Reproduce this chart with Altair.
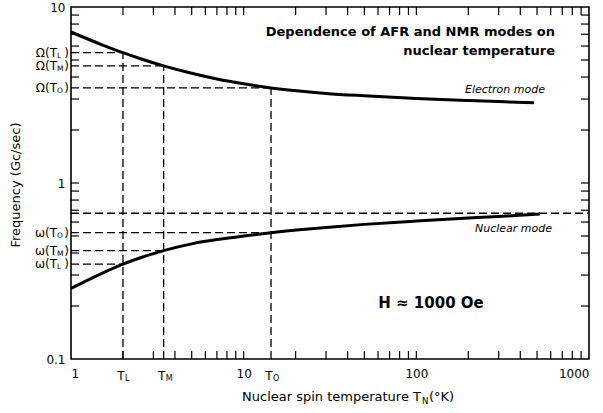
import altair as alt
import pandas as pd

# ---------------- data ----------------
electron_T = [1, 1.5, 2, 2.5, 3.44, 5, 7, 10, 14.4, 21, 30, 50, 100, 200, 300, 480]
electron_f = [7.21, 6.12, 5.50, 5.10, 4.63, 4.20, 3.90, 3.66, 3.47, 3.33, 3.23, 3.13, 3.02, 2.94, 2.90, 2.86]
nuclear_T = [1, 1.5, 2, 2.5, 3.44, 5, 7, 10, 14.4, 21, 30, 50, 100, 200, 300, 520]
nuclear_f = [0.252, 0.306, 0.346, 0.375, 0.413, 0.451, 0.477, 0.500, 0.522, 0.542, 0.559, 0.582, 0.608, 0.632, 0.645, 0.666]

T_marks = [2.0, 3.44, 14.4]
T_subs = ["L", "M", "O"]
Omega_at_T = [5.5, 4.63, 3.47]
omega_at_T = [0.346, 0.413, 0.522]
omega_limit = 0.673

x_domain = [1, 1000]
y_domain = [0.1, 10]
x_label_vals = [1, 10, 100, 1000]
y_label_vals = [0.1, 1, 10]
x_tick_vals = [2, 3, 4, 5, 6, 7, 8, 9, 10, 20, 30, 40, 50, 60, 70, 80, 90, 100,
               200, 300, 400, 500, 600, 700, 800, 900]
y_tick_vals = [0.2, 0.3, 0.4, 0.5, 0.6, 0.7, 0.8, 0.9, 1, 2, 3, 4, 5, 6, 7, 8, 9]

# ---------------- layout ----------------
W, H = 518, 352
FONT = "DejaVu Sans"

xs = alt.Scale(type="log", domain=x_domain, nice=False)
ys = alt.Scale(type="log", domain=y_domain, nice=False)

x_axis = alt.Axis(values=x_label_vals, ticks=False, domain=False, grid=False,
                  labelExpr="'' + datum.value", labelFontSize=12, labelFont=FONT,
                  labelColor="black", labelPadding=9, title=None)
y_axis = alt.Axis(values=y_label_vals, ticks=False, domain=False, grid=False,
                  labelExpr="'' + datum.value", labelFontSize=12, labelFont=FONT,
                  labelColor="black", labelPadding=6, title=None)


def X(field):
    return alt.X(field, scale=xs, axis=x_axis, title=None)


def Y(field):
    return alt.Y(field, scale=ys, axis=y_axis, title=None)


curves = pd.DataFrame({
    "T": electron_T + nuclear_T,
    "f": electron_f + nuclear_f,
    "mode": ["Electron"] * len(electron_T) + ["Nuclear"] * len(nuclear_T),
})

segs = pd.DataFrame({
    "x1": T_marks + [x_domain[0]] * 3 + [x_domain[0]] * 3 + [x_domain[0]],
    "x2": T_marks + T_marks + T_marks + [x_domain[1]],
    "y1": [y_domain[0]] * 3 + Omega_at_T + omega_at_T + [omega_limit],
    "y2": Omega_at_T + Omega_at_T + omega_at_T + [omega_limit],
})

lab_df = pd.DataFrame({"T": T_marks, "sub": T_subs, "Om": Omega_at_T, "om": omega_at_T})
one = pd.DataFrame({"a": [0]})

lines = alt.Chart(curves).mark_line(color="black", strokeWidth=3, interpolate="monotone").encode(
    x=X("T:Q"), y=Y("f:Q"), detail="mode:N",
)

dashed = alt.Chart(segs).mark_rule(color="black", strokeWidth=1.3, strokeDash=[8, 4]).encode(
    x=X("x1:Q"), x2="x2:Q", y=Y("y1:Q"), y2="y2:Q",
)

ydf = pd.DataFrame({"v": y_tick_vals})
xdf = pd.DataFrame({"v": x_tick_vals})
tick_style = dict(color="black", strokeWidth=1.2)
left_ticks = alt.Chart(ydf).mark_rule(**tick_style).encode(
    y=Y("v:Q"), x=alt.value(0), x2=alt.value(8))
right_ticks = alt.Chart(ydf).mark_rule(**tick_style).encode(
    y=Y("v:Q"), x=alt.value(W - 8), x2=alt.value(W))
bottom_ticks = alt.Chart(xdf).mark_rule(**tick_style).encode(
    x=X("v:Q"), y=alt.value(H - 8), y2=alt.value(H))
top_ticks = alt.Chart(xdf).mark_rule(**tick_style).encode(
    x=X("v:Q"), y=alt.value(0), y2=alt.value(8))


def txt(text, x, y, size=12, align="center", weight="normal", style="normal", angle=0):
    return alt.Chart(one).mark_text(text=text, align=align, baseline="middle", fontSize=size,
                                    fontWeight=weight, fontStyle=style, font=FONT, color="black",
                                    angle=angle).encode(x=alt.value(x), y=alt.value(y))


def side_labels(field, greek):
    base = alt.Chart(lab_df)
    pre = base.mark_text(align="right", baseline="middle", fontSize=12, font=FONT, color="black").encode(
        x=alt.value(-14), y=Y(f"{field}:Q"), text=alt.value(greek + "(T"))
    sub = base.mark_text(align="left", baseline="middle", fontSize=7.5, font=FONT, color="black", dy=3).encode(
        x=alt.value(-14), y=Y(f"{field}:Q"), text="sub:N")
    clo = base.mark_text(align="right", baseline="middle", fontSize=12, font=FONT, color="black").encode(
        x=alt.value(-2), y=Y(f"{field}:Q"), text=alt.value(")"))
    return pre + sub + clo


Om_labels = side_labels("Om", "Ω")
om_labels = side_labels("om", "ω")

t_base = alt.Chart(lab_df)
T_pre = t_base.mark_text(align="center", baseline="middle", fontSize=12, font=FONT, color="black", dx=-2).encode(
    x=X("T:Q"), y=alt.value(H + 17), text=alt.value("T"))
T_sub = t_base.mark_text(align="left", baseline="middle", fontSize=8, font=FONT, color="black", dx=2).encode(
    x=X("T:Q"), y=alt.value(H + 20), text="sub:N")

texts = (
    txt("Dependence of AFR and NMR modes on", 484, 25, size=13, align="right", weight="bold")
    + txt("nuclear temperature", 484, 44, size=13, align="right", weight="bold")
    + txt("Electron mode", 474, 83, size=11, align="right", style="italic")
    + txt("Nuclear mode", 481, 222, size=11, align="right", style="italic")
    + txt("H ≈ 1000 Oe", 360, 296, size=15, weight="bold")
    + txt("Frequency (Gc/sec)", -55, 178, size=13, angle=270)
    + txt("Nuclear spin temperature T", 350, 390, size=13, align="right")
    + txt("N", 351, 394, size=8.5, align="left")
    + txt("(°K)", 358, 390, size=13, align="left")
)

chart = alt.layer(
    lines, dashed, left_ticks, right_ticks, bottom_ticks, top_ticks,
    Om_labels, om_labels, T_pre, T_sub, texts,
).properties(
    width=W, height=H,
    autosize=alt.AutoSizeParams(type="none"),
    padding={"left": 71, "top": 7, "right": 14, "bottom": 54},
    background="white",
).configure_view(stroke="black", strokeWidth=1.6)

chart.save("out.html", embed_options={"renderer": "svg", "actions": False})
